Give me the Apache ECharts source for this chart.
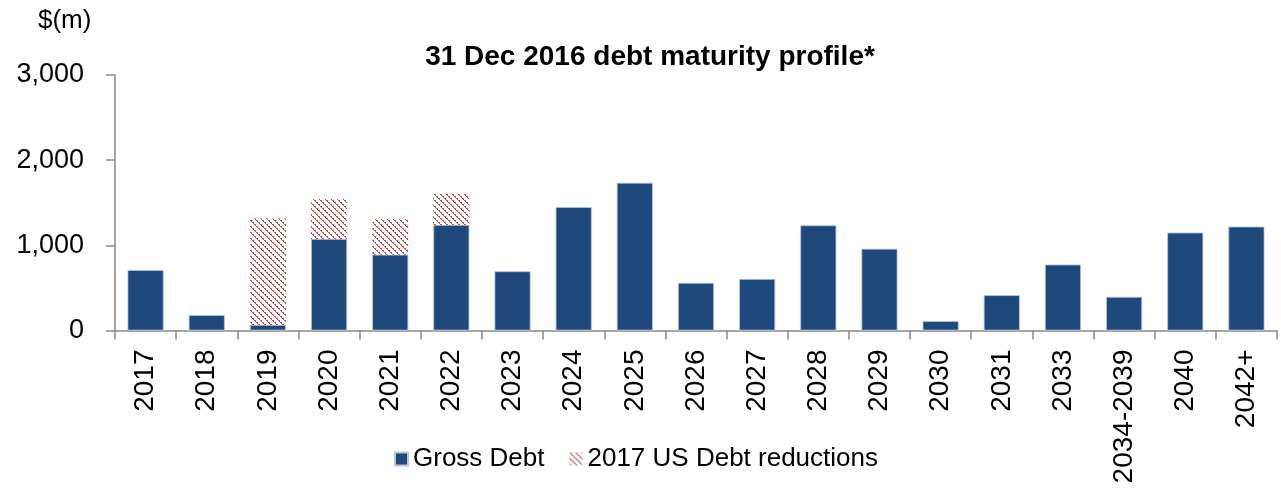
<!DOCTYPE html>
<html>
<head>
<meta charset="utf-8">
<script src="https://cdn.jsdelivr.net/npm/echarts@6/dist/echarts.min.js"></script>
<style>
  html, body { margin: 0; padding: 0; background: #fff; }
  #chart { width: 1281px; height: 489px; }
</style>
</head>
<body>
<div id="chart"></div>
<script>
// Maturity buckets
const categories = ['2017', '2018', '2019', '2020', '2021', '2022', '2023', '2024', '2025', '2026',
  '2027', '2028', '2029', '2030', '2031', '2033', '2034-2039', '2040', '2042+'];
// Gross debt maturing, $m
const grossDebt = [710, 180, 65, 1075, 890, 1240, 695, 1450, 1735, 560,
  605, 1235, 960, 110, 415, 775, 395, 1150, 1220];
// 2017 US debt reductions stacked on top, $m
const usReductions = [null, null, 1250, 470, 420, 365, null, null, null, null,
  null, null, null, null, null, null, null, null, null];
const yTicks = [0, 1000, 2000, 3000];

// Diagonal dotted hatch used for the reductions
function hatchPattern() {
  const c = document.createElement('canvas');
  c.width = 6; c.height = 6;
  const g = c.getContext('2d');
  g.fillStyle = '#fff';
  g.fillRect(0, 0, 6, 6);
  g.fillStyle = '#C0504D';
  for (let i = 0; i < 6; i++) {
    g.fillRect(i, i, 1, 1);
    if (i % 2 === 0) g.fillRect(i + 1, i, 1, 1);
  }
  return c;
}

const chart = echarts.init(document.getElementById('chart'), null, { renderer: 'canvas' });
const font = 'Liberation Sans, Arial, sans-serif';

chart.setOption({
  animation: false,
  textStyle: { fontFamily: font },
  graphic: [
    {
      type: 'text', left: 38, top: 8,
      style: { text: '$(m)', font: '26px ' + font, fill: '#000' }
    },
    {
      type: 'text', x: 650, y: 57.5,
      style: { text: '31 Dec 2016 debt maturity profile*', font: 'bold 28px ' + font,
        fill: '#000', align: 'center', verticalAlign: 'middle' }
    }
  ],
  legend: {
    left: 389, top: 441,
    itemWidth: 13, itemHeight: 13, itemGap: 25,
    textStyle: { fontSize: 26, color: '#000', fontFamily: font },
    data: [
      { name: 'Gross Debt', icon: 'rect' },
      { name: '2017 US Debt reductions', icon: 'rect' }
    ]
  },
  grid: { left: 115, right: 4, top: 75, bottom: 158.5, containLabel: false },
  xAxis: {
    type: 'category',
    data: categories,
    axisLine: { lineStyle: { color: '#898989', width: 1.5 } },
    axisTick: { show: true, length: 9, lineStyle: { color: '#898989', width: 1.5 } },
    axisLabel: { rotate: 90, margin: 19, fontSize: 28, color: '#000', fontFamily: font, interval: 0 }
  },
  yAxis: {
    type: 'value',
    min: yTicks[0], max: yTicks[yTicks.length - 1], interval: 1000,
    splitLine: { show: false },
    axisLine: { show: true, lineStyle: { color: '#898989', width: 1.5 } },
    axisTick: { show: true, length: 9, lineStyle: { color: '#898989', width: 1.5 } },
    axisLabel: {
      margin: 31, fontSize: 27, color: '#000', fontFamily: font,
      formatter: v => v.toLocaleString('en-US')
    }
  },
  series: [
    {
      name: 'Gross Debt', type: 'bar', stack: 'debt',
      data: grossDebt, barCategoryGap: '41%',
      itemStyle: { color: '#1F497D', borderColor: '#b8c6da', borderWidth: 0.8 }
    },
    {
      name: '2017 US Debt reductions', type: 'bar', stack: 'debt',
      data: usReductions, barCategoryGap: '41%',
      itemStyle: { color: { image: hatchPattern(), repeat: 'repeat' } }
    }
  ]
});
</script>
</body>
</html>
